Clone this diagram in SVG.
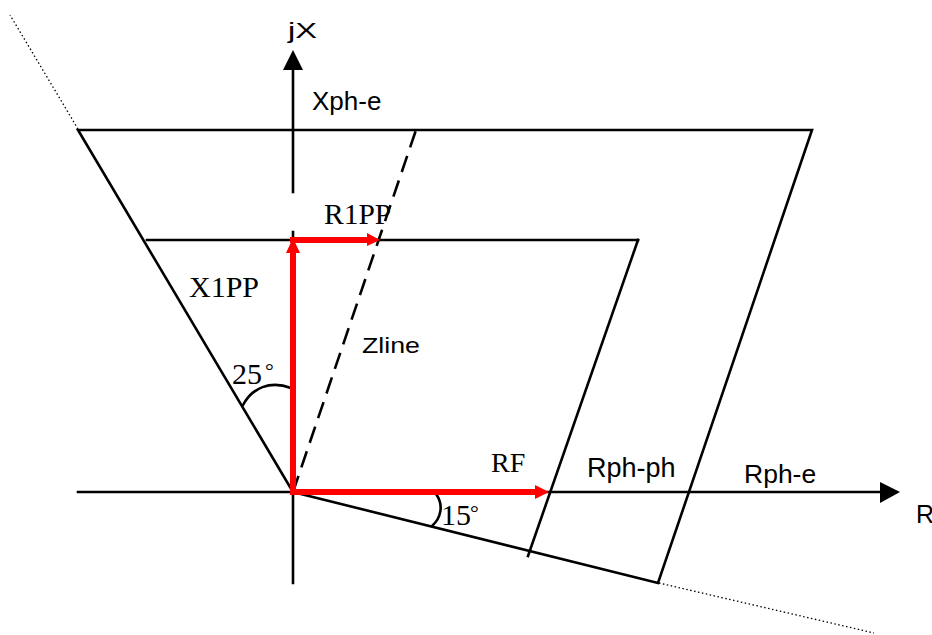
<svg xmlns="http://www.w3.org/2000/svg" width="932" height="635" viewBox="0 0 932 635">
<style>
.ln{stroke:#000;stroke-width:2.6;fill:none;stroke-linecap:square}
.dot{stroke:#000;stroke-width:1.3;fill:none;stroke-dasharray:1.5 2.5}
.dash{stroke:#000;stroke-width:2.6;fill:none;stroke-dasharray:17 9}
.red{stroke:#ff0000;stroke-width:6;fill:none}
.rh{fill:#ff0000}
.ah{fill:#000}
.sans{font-family:"Liberation Sans",Arial,sans-serif;fill:#000}
.serif{font-family:"Liberation Serif","Times New Roman",serif;fill:#000}
</style>
<rect width="932" height="635" fill="#fff"/>
<g id="connectors">
<g id="axes">
<line class="ln" x1="293" y1="68" x2="293" y2="192"/>
<line class="ln" x1="293" y1="232" x2="293" y2="583"/>
<polygon class="ah" points="293,50 283,70 303,70"/>
<line class="ln" x1="78" y1="492" x2="882" y2="492"/>
<polygon class="ah" points="900,492 880,482 880,503"/>
</g>
<g id="outer-zone">
<polyline class="ln" points="293,492 78,130 812,130 658,583 293,492" stroke-linejoin="miter"/>
<line class="dot" x1="78" y1="129" x2="10" y2="15"/>
<line class="dot" x1="659" y1="583" x2="874" y2="633"/>
</g>
<g id="inner-zone">
<line class="ln" x1="147" y1="240" x2="638" y2="240"/>
<line class="ln" x1="638" y1="240" x2="528" y2="556"/>
</g>
<line id="zline" class="dash" x1="293" y1="492" x2="416" y2="130"/>
<g id="angle-arcs">
<path class="ln" stroke-width="1.8" d="M243,405 C252,388 270,380 291,388"/>
<path class="ln" stroke-width="1.8" d="M436,494 C444,505 441,518 432,526"/>
</g>
<g id="red-vectors">
<line class="red" x1="293" y1="495" x2="293" y2="250"/>
<polygon class="rh" points="293,238 286,253 300,253"/>
<line class="red" x1="290" y1="240" x2="369" y2="240"/>
<polygon class="rh" points="380,240 367,233 367,246"/>
<line class="red" x1="290" y1="492" x2="537" y2="492"/>
<polygon class="rh" points="549,492 535,485 535,499"/>
</g>
</g>
<g id="labels">
<text id="jX" class="sans" x="288" y="38" font-size="22" textLength="29" lengthAdjust="spacingAndGlyphs">jX</text>
<text id="Xph-e" class="sans" x="312" y="110" font-size="26">Xph-e</text>
<text id="R1PP" class="serif" x="324" y="224" font-size="29.5">R1PP</text>
<text id="X1PP" class="serif" x="189" y="297" font-size="30">X1PP</text>
<text id="Zline" class="sans" x="362" y="353" font-size="22" textLength="58" lengthAdjust="spacingAndGlyphs">Zline</text>
<text id="a25" class="serif" x="232" y="384" font-size="30">25</text>
<text class="serif" x="265" y="378" font-size="22">°</text>
<text id="RF" class="serif" x="491" y="472" font-size="28">RF</text>
<text id="a15" class="serif" x="441" y="525" font-size="30">15</text>
<text class="serif" x="470" y="520" font-size="22">°</text>
<text id="Rph-ph" class="sans" x="587" y="477" font-size="27">Rph-ph</text>
<text id="Rph-e" class="sans" x="744" y="483" font-size="26.5">Rph-e</text>
<text id="R" class="sans" x="916" y="523" font-size="25">R</text>
</g>
</svg>
